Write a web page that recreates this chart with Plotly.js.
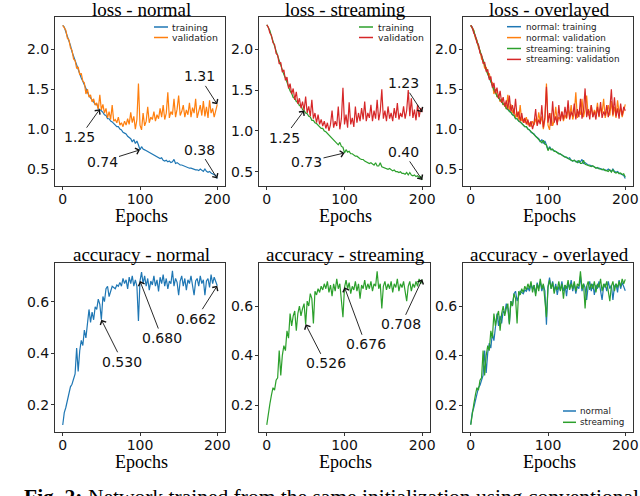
<!DOCTYPE html>
<html><head><meta charset="utf-8">
<script src="https://cdn.plot.ly/plotly-3.0.1.min.js"></script>
<style>html,body{margin:0;padding:0;background:#fff}#chart{width:640px;height:496px}</style>
</head><body><div id="chart"></div>
<script>
// ---------------- data ----------------
const epochs = [0,2,4,6,8,10,12,14,16,18,
  20,22,24,26,28,30,32,34,36,38,
  40,42,44,46,48,50,52,54,56,58,
  60,62,64,66,68,70,72,74,76,78,
  80,82,84,86,88,90,92,94,96,98,
  100,102,104,106,108,110,112,114,116,118,
  120,122,124,126,128,130,132,134,136,138,
  140,142,144,146,148,150,152,154,156,158,
  160,162,164,166,168,170,172,174,176,178,
  180,182,184,186,188,190,192,194,196,198,
  200];

const lossTrainNormal = [2.30,2.28,2.22,2.17,2.10,2.05,1.97,1.91,1.85,1.80,
  1.75,1.70,1.64,1.60,1.55,1.50,1.45,1.42,1.39,1.37,
  1.34,1.31,1.31,1.26,1.25,1.23,1.21,1.18,1.17,1.13,
  1.13,1.10,1.09,1.07,1.06,1.03,1.03,1.00,0.99,0.96,
  0.95,0.94,0.91,0.89,0.88,0.84,0.87,0.82,0.85,0.80,
  0.74,0.78,0.75,0.74,0.73,0.72,0.70,0.70,0.68,0.67,
  0.66,0.66,0.64,0.63,0.64,0.61,0.60,0.61,0.59,0.60,
  0.58,0.59,0.62,0.57,0.58,0.56,0.55,0.55,0.54,0.53,
  0.53,0.52,0.51,0.51,0.50,0.50,0.49,0.49,0.48,0.50,
  0.48,0.47,0.50,0.47,0.46,0.47,0.45,0.44,0.44,0.42,
  0.38];

const lossValNormal = [2.30,2.26,2.24,2.14,2.12,2.02,1.99,1.88,1.86,1.76,
  1.78,1.68,1.70,1.60,1.58,1.44,1.50,1.40,1.43,1.34,
  1.38,1.30,1.33,1.25,1.43,1.24,1.31,1.20,1.26,1.14,
  1.22,1.12,1.30,1.10,1.12,1.08,1.15,1.05,1.08,1.03,
  1.10,1.05,1.13,1.06,1.21,1.08,1.16,1.00,1.12,1.57,
  1.05,0.99,1.20,1.04,1.10,1.28,1.08,1.15,1.12,1.22,
  1.10,1.18,1.13,1.26,1.15,1.30,1.12,1.20,1.46,1.14,
  1.22,1.18,1.38,1.15,1.25,1.42,1.17,1.22,1.30,1.15,
  1.24,1.18,1.33,1.15,1.27,1.20,1.38,1.14,1.22,1.30,
  1.17,1.35,1.16,1.28,1.14,1.36,1.20,1.26,1.15,1.22,
  1.31];

const lossTrainStream = [2.30,2.27,2.23,2.16,2.11,2.04,1.98,1.92,1.86,1.79,
  1.76,1.69,1.65,1.59,1.56,1.49,1.46,1.41,1.40,1.36,
  1.35,1.31,1.31,1.26,1.25,1.22,1.21,1.18,1.17,1.13,
  1.13,1.10,1.09,1.07,1.06,1.03,1.03,1.00,0.99,0.97,
  0.96,0.93,0.92,0.90,0.88,0.86,0.83,0.86,0.81,0.80,
  0.73,0.77,0.74,0.75,0.72,0.72,0.70,0.69,0.69,0.67,
  0.66,0.65,0.65,0.63,0.62,0.62,0.60,0.61,0.59,0.58,
  0.61,0.57,0.57,0.61,0.56,0.55,0.55,0.54,0.53,0.54,
  0.52,0.51,0.52,0.50,0.50,0.49,0.50,0.48,0.48,0.47,
  0.49,0.46,0.49,0.46,0.45,0.46,0.44,0.45,0.43,0.44,
  0.40];

const lossValStream = [2.30,2.27,2.20,2.17,2.08,2.06,1.95,1.93,1.82,1.84,
  1.72,1.75,1.62,1.66,1.52,1.58,1.45,1.52,1.38,1.48,
  1.33,1.40,1.28,1.36,1.25,1.42,1.22,1.30,1.18,1.38,
  1.15,1.22,1.10,1.20,1.08,1.14,1.06,1.12,1.03,1.10,
  1.00,1.08,1.25,1.04,1.12,1.06,1.30,1.02,1.15,1.53,
  1.08,1.20,1.04,1.35,1.08,1.16,1.05,1.30,1.10,1.22,
  1.12,1.28,1.14,1.36,1.12,1.22,1.16,1.32,1.12,1.25,
  1.15,1.38,1.13,1.24,1.51,1.15,1.25,1.12,1.30,1.15,
  1.22,1.12,1.28,1.16,1.34,1.14,1.22,1.17,1.30,1.15,
  1.25,1.50,1.18,1.40,1.16,1.26,1.13,1.32,1.17,1.28,
  1.23];

const accNormal = [0.122,0.17,0.19,0.215,0.25,0.27,0.28,0.30,0.32,0.42,
  0.33,0.41,0.45,0.43,0.49,0.46,0.53,0.57,0.52,0.56,
  0.53,0.58,0.57,0.61,0.59,0.53,0.62,0.60,0.65,0.66,
  0.62,0.645,0.66,0.655,0.65,0.665,0.66,0.675,0.66,0.69,
  0.67,0.685,0.65,0.695,0.67,0.70,0.66,0.685,0.66,0.525,
  0.68,0.715,0.67,0.70,0.66,0.69,0.645,0.68,0.665,0.70,
  0.66,0.685,0.64,0.695,0.67,0.705,0.66,0.69,0.65,0.68,
  0.67,0.72,0.66,0.69,0.675,0.625,0.68,0.70,0.66,0.69,
  0.645,0.685,0.67,0.70,0.655,0.625,0.68,0.69,0.66,0.70,
  0.67,0.685,0.625,0.68,0.69,0.655,0.705,0.67,0.695,0.68,
  0.662];

const accStream = [0.12,0.17,0.205,0.24,0.27,0.26,0.30,0.31,0.42,0.32,
  0.40,0.44,0.42,0.50,0.47,0.57,0.52,0.56,0.58,0.50,
  0.57,0.60,0.56,0.59,0.61,0.526,0.62,0.60,0.65,0.63,
  0.53,0.66,0.645,0.67,0.655,0.68,0.665,0.69,0.67,0.70,
  0.655,0.685,0.64,0.69,0.66,0.71,0.67,0.69,0.62,0.555,
  0.676,0.705,0.67,0.695,0.65,0.68,0.665,0.70,0.66,0.69,
  0.63,0.685,0.67,0.705,0.665,0.69,0.67,0.70,0.66,0.69,
  0.68,0.74,0.67,0.69,0.59,0.68,0.70,0.665,0.69,0.67,
  0.70,0.655,0.69,0.675,0.71,0.66,0.69,0.675,0.70,0.665,
  0.62,0.68,0.70,0.66,0.69,0.675,0.70,0.68,0.71,0.69,
  0.708];

const xTicks = [0, 100, 200];
const lossTicks = [0.5, 1.0, 1.5, 2.0];
const lossTickText = ['0.5', '1.0', '1.5', '2.0'];
const accTicks = [0.2, 0.4, 0.6];
const accTickText = ['0.2', '0.4', '0.6'];

const titles = ['loss - normal', 'loss - streaming', 'loss - overlayed',
                'accuracy - normal', 'accuracy - streaming', 'accuracy - overlayed'];
const legendNormal = ['training', 'validation'];
const legendOverlay = ['normal: training', 'normal: validation', 'streaming: training', 'streaming: validation'];
const legendAcc = ['normal', 'streaming'];
const caption = '<b>Fig. 2:</b> Network trained from the same initialization using conventional';

// ---------------- layout helpers ----------------
const W = 640, H = 496;
const px = v => v / W;
const py = v => 1 - v / H;
const COL = {blue: '#1f77b4', orange: '#ff7f0e', green: '#2ca02c', red: '#d62728'};
const AXC = '#333333';
const tickFont = {family: 'DejaVu Sans', size: 14, color: '#111'};
const serif = 'Liberation Serif, Times New Roman, serif';

function tr(name, x, y, xa, ya, color) {
  return {type: 'scatter', mode: 'lines', name: name, x: x, y: y, xaxis: xa, yaxis: ya,
          line: {color: color, width: 1.2}, hoverinfo: 'skip', showlegend: false};
}
const data = [
  tr('training', epochs, lossTrainNormal, 'x', 'y', COL.blue),
  tr('validation', epochs, lossValNormal, 'x', 'y', COL.orange),
  tr('training', epochs, lossTrainStream, 'x2', 'y2', COL.green),
  tr('validation', epochs, lossValStream, 'x2', 'y2', COL.red),
  tr('normal: training', epochs, lossTrainNormal, 'x3', 'y3', COL.blue),
  tr('normal: validation', epochs, lossValNormal, 'x3', 'y3', COL.orange),
  tr('streaming: training', epochs, lossTrainStream, 'x3', 'y3', COL.green),
  tr('streaming: validation', epochs, lossValStream, 'x3', 'y3', COL.red),
  tr('normal', epochs, accNormal, 'x4', 'y4', COL.blue),
  tr('streaming', epochs, accStream, 'x5', 'y5', COL.green),
  tr('normal', epochs, accNormal, 'x6', 'y6', COL.blue),
  tr('streaming', epochs, accStream, 'x6', 'y6', COL.green)
];

const colsX = [[55, 225], [259, 430], [463, 633]];
const rowsY = [[17, 186], [263, 432]];

function baseAxis() {
  return {showline: true, mirror: true, linecolor: AXC, linewidth: 1, ticks: 'outside',
          ticklen: 3, tickwidth: 1, tickcolor: AXC, tickfont: tickFont, showgrid: false,
          zeroline: false, fixedrange: true};
}
function xAxis(col, row, anchor) {
  return Object.assign(baseAxis(), {domain: [px(colsX[col][0]), px(colsX[col][1])], anchor: anchor,
    range: [-10, 210], tickmode: 'array', tickvals: xTicks, ticktext: xTicks.map(String),
    ticklabelstandoff: -3});
}
function yAxis(col, row, anchor, range, tv, tt) {
  return Object.assign(baseAxis(), {domain: [py(rowsY[row][1]), py(rowsY[row][0])], anchor: anchor,
    range: range, tickmode: 'array', tickvals: tv, ticktext: tt, ticklabelstandoff: -1});
}

const layout = {
  width: W, height: H, margin: {l: 0, r: 0, t: 0, b: 0},
  paper_bgcolor: '#fff', plot_bgcolor: '#fff', showlegend: false,
  xaxis: xAxis(0, 0, 'y'), yaxis: yAxis(0, 0, 'x', [0.287, 2.405], lossTicks, lossTickText),
  xaxis2: xAxis(1, 0, 'y2'), yaxis2: yAxis(1, 0, 'x2', [0.325, 2.396], lossTicks, lossTickText),
  xaxis3: xAxis(2, 0, 'y3'), yaxis3: yAxis(2, 0, 'x3', [0.287, 2.405], lossTicks, lossTickText),
  xaxis4: xAxis(0, 1, 'y4'), yaxis4: yAxis(0, 1, 'x4', [0.095, 0.75], accTicks, accTickText),
  xaxis5: xAxis(1, 1, 'y5'), yaxis5: yAxis(1, 1, 'x5', [0.091, 0.774], accTicks, accTickText),
  xaxis6: xAxis(2, 1, 'y6'), yaxis6: yAxis(2, 1, 'x6', [0.091, 0.774], accTicks, accTickText),
  annotations: [], shapes: []
};

// titles and "Epochs" labels
const titleY = [9, 254];
const epochY = [215.5, 461.5];
for (let r = 0; r < 2; r++) {
  for (let c = 0; c < 3; c++) {
    const cx = (colsX[c][0] + colsX[c][1]) / 2 + 1;
    layout.annotations.push({xref: 'paper', yref: 'paper', x: px(cx), y: py(titleY[r]),
      xanchor: 'center', yanchor: 'middle', showarrow: false, text: titles[r * 3 + c],
      font: {family: serif, size: 19, color: '#000'}});
    layout.annotations.push({xref: 'paper', yref: 'paper', x: px(cx), y: py(epochY[r]),
      xanchor: 'center', yanchor: 'middle', showarrow: false, text: 'Epochs',
      font: {family: serif, size: 18, color: '#000'}});
  }
}

// value call-outs with arrows
function callout(xa, ya, arr, idx, digits, ax, ay) {
  layout.annotations.push({xref: xa, yref: ya, x: epochs[idx], y: arr[idx],
    text: arr[idx].toFixed(digits), showarrow: true, arrowhead: 4, arrowsize: 1.4,
    arrowwidth: 0.9, arrowcolor: '#111', ax: ax, ay: ay, standoff: 0,
    font: {family: 'DejaVu Sans', size: 14, color: '#111'}});
}
callout('x', 'y', lossValNormal, 100, 2, -18, -28);
callout('x', 'y', lossTrainNormal, 24, 2, -20, 28);
callout('x', 'y', lossTrainNormal, 50, 2, -38, 12);
callout('x', 'y', lossTrainNormal, 100, 2, -18, -29);
callout('x2', 'y2', lossValStream, 100, 2, -19, -29);
callout('x2', 'y2', lossTrainStream, 24, 2, -20, 27);
callout('x2', 'y2', lossTrainStream, 50, 2, -38, 9);
callout('x2', 'y2', lossTrainStream, 100, 2, -19, -28);
callout('x4', 'y4', accNormal, 25, 3, 21, 42);
callout('x4', 'y4', accNormal, 50, 3, 22, 57);
callout('x4', 'y4', accNormal, 100, 3, -21, 33);
callout('x5', 'y5', accStream, 25, 3, 20, 39);
callout('x5', 'y5', accStream, 50, 3, 21, 57);
callout('x5', 'y5', accStream, 100, 3, -21, 45);

// small in-plot legends (line sample + label)
function legend(labels, colors, x0, x1, xt, y0, dy, size) {
  labels.forEach((lab, i) => {
    const yy = y0 + i * dy;
    layout.shapes.push({type: 'line', xref: 'paper', yref: 'paper', x0: px(x0), x1: px(x1),
      y0: py(yy), y1: py(yy), line: {color: colors[i], width: 1.5}});
    layout.annotations.push({xref: 'paper', yref: 'paper', x: px(xt), y: py(yy), xanchor: 'left',
      yanchor: 'middle', showarrow: false, text: lab, borderpad: 0,
      font: {family: 'DejaVu Sans', size: size, color: '#222'}});
  });
}
legend(legendNormal, [COL.blue, COL.orange], 154, 168, 171, 27, 10.5, 9.3);
legend(legendNormal, [COL.green, COL.red], 359, 373, 377, 27, 10.5, 9.3);
legend(legendOverlay, [COL.blue, COL.orange, COL.green, COL.red], 507, 521, 525, 26.7, 10.9, 8.8);
legend(legendAcc, [COL.blue, COL.green], 563, 576, 579, 411, 11.3, 8.8);

// caption (cut off at the bottom edge as in the source figure)
layout.annotations.push({xref: 'paper', yref: 'paper', x: px(22), y: py(497.5), xanchor: 'left',
  yanchor: 'middle', showarrow: false, text: caption,
  font: {family: serif, size: 21.5, color: '#000'}});

Plotly.newPlot('chart', data, layout, {displayModeBar: false, staticPlot: true});
</script>
</body></html>
